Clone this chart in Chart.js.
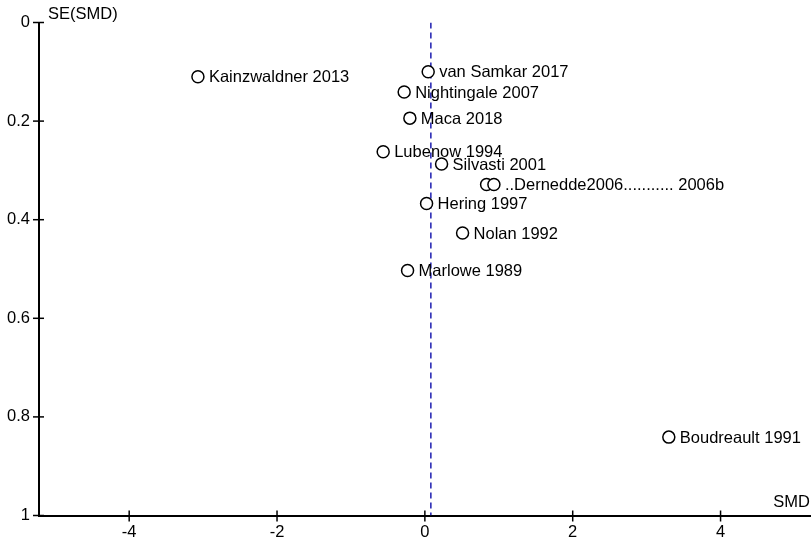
<!DOCTYPE html>
<html><head><meta charset="utf-8">
<script src="https://cdn.jsdelivr.net/npm/chart.js@4"></script>
<style>html,body{margin:0;padding:0;background:#fff}#wrap{width:812px;height:541px;position:relative}</style>
</head><body><div id="wrap"><canvas id="c"></canvas></div>
<script>
const studies = ["Kainzwaldner 2013","van Samkar 2017","Nightingale 2007","Maca 2018","Lubenow 1994","Silvasti 2001","Dernedde 2006","Dernedde 2006b","Hering 1997","Nolan 1992","Marlowe 1989","Boudreault 1991"];
const labels = ["Kainzwaldner 2013","van Samkar 2017","Nightingale 2007","Maca 2018","Lubenow 1994","Silvasti 2001","","..Dernedde2006........... 2006b","Hering 1997","Nolan 1992","Marlowe 1989","Boudreault 1991"];
const smd = [-3.07, 0.045, -0.28, -0.203, -0.564, 0.226, 0.835, 0.934, 0.023, 0.51, -0.234, 3.30];
const se = [0.11, 0.10, 0.141, 0.194, 0.262, 0.287, 0.3285, 0.3285, 0.367, 0.427, 0.503, 0.841];
const pooled = 0.081;
const xTicks = [-4, -2, 0, 2, 4];
const yTicks = [0, 0.2, 0.4, 0.6, 0.8, 1];
const FONT = "'Liberation Sans', Arial, sans-serif";

const pts = smd.map((v,i)=>({x:v, y:se[i]}));

const decor = {
  id:'decor',
  afterDatasetsDraw(chart){
    const ctx = chart.ctx, xs = chart.scales.x, ys = chart.scales.y, ca = chart.chartArea;
    ctx.save();
    ctx.strokeStyle = '#000'; ctx.lineWidth = 1.5;
    yTicks.forEach(v=>{const p=ys.getPixelForValue(v);ctx.beginPath();ctx.moveTo(ca.left-6,p);ctx.lineTo(ca.left+5,p);ctx.stroke();});
    xTicks.forEach(v=>{const p=xs.getPixelForValue(v);ctx.beginPath();ctx.moveTo(p,ca.bottom-5);ctx.lineTo(p,ca.bottom+6);ctx.stroke();});
    ctx.fillStyle = '#000'; ctx.font = '16.5px ' + FONT; ctx.textBaseline = 'middle'; ctx.textAlign='left';
    pts.forEach((p,i)=>{ if(!labels[i]) return; ctx.fillText(labels[i], xs.getPixelForValue(p.x)+11, ys.getPixelForValue(p.y)+1);});
    ctx.fillText('SE(SMD)', ca.left+9, 14);
    ctx.textAlign='right';
    ctx.fillText('SMD', 810, ca.bottom-13);
    ctx.restore();
  }
};

new Chart(document.getElementById('c'), {
  type:'scatter',
  data:{datasets:[
    {data:pts, pointStyle:'circle', pointRadius:6, pointBorderColor:'#000', pointBackgroundColor:'#fff', pointBorderWidth:1.5, order:1},
    {type:'line', data:[{x:pooled,y:0},{x:pooled,y:1}], borderColor:'#1c1cb0', borderWidth:1.5, borderDash:[6,4], pointRadius:0, order:2}
  ]},
  options:{
    responsive:true, maintainAspectRatio:false, animation:false,
    layout:{autoPadding:false, padding:{top:22.5, right:2, left:0, bottom:0}},
    plugins:{legend:{display:false}, tooltip:{enabled:false}},
    scales:{
      x:{type:'linear', min:-5.22, max:5.21,
        afterBuildTicks:s=>{s.ticks = xTicks.map(v=>({value:v}));},
        afterFit:s=>{s.height = 25.5;},
        grid:{display:false, drawTicks:false}, border:{display:true,color:'#000',width:2},
        ticks:{color:'#000', font:{family:FONT,size:16.5}, padding:7, callback:v=>String(v), maxRotation:0}},
      y:{type:'linear', reverse:true, min:0, max:1,
        afterBuildTicks:s=>{s.ticks = yTicks.map(v=>({value:v}));},
        afterFit:s=>{s.width = 39;},
        grid:{display:false, drawTicks:false}, border:{display:true,color:'#000',width:2},
        ticks:{color:'#000', font:{family:FONT,size:16.5}, padding:9, callback:v=>String(Math.round(v*10)/10)}}
    }
  },
  plugins:[decor]
});
</script></body></html>
